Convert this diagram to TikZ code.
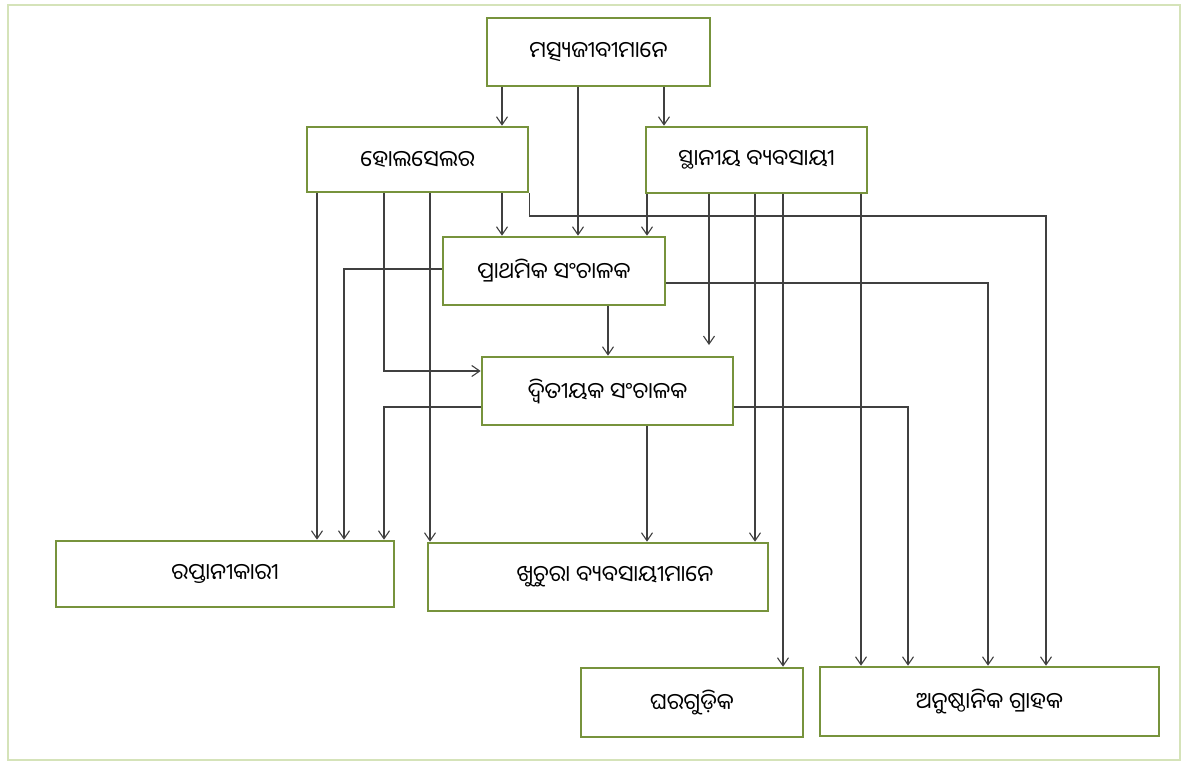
\documentclass[tikz,border=0pt]{standalone}
\usepackage{fontspec}
\newfontfamily\oriya[Script=Oriya]{Noto Sans Oriya UI}
\usetikzlibrary{arrows.meta}
\definecolor{boxgreen}{HTML}{77933C}
\definecolor{framegreen}{HTML}{D5E3B9}
\definecolor{linegray}{HTML}{404040}
\begin{document}
\begin{tikzpicture}[x=1pt,y=-1pt,
  box/.style={draw=boxgreen,line width=2.6pt,fill=white,inner sep=0pt,font=\oriya\fontsize{22.5}{26}\selectfont,text=black},
  lbl/.style={inner sep=0pt,font=\oriya\fontsize{22.5}{26}\selectfont,text=black},
  conn/.style={draw=linegray,line width=1.1pt,-{Straight Barb[length=8pt,width=11pt,line width=1.1pt]}},
  plain/.style={draw=linegray,line width=1.1pt}]
\useasboundingbox (0,0) rectangle (1182,763);
\draw[framegreen,line width=2.4pt] (8,5) rectangle (1180,760);
% boxes
\node[box,minimum width=223pt,minimum height=68pt] (A) at (598.5,52) {ମତ୍ସ୍ୟଜୀବୀମାନେ};
\node[box,minimum width=221pt,minimum height=65pt] (B) at (417.5,159.5) {ହୋଲସେଲର};
\node[box,minimum width=221pt,minimum height=66pt] (C) at (756.5,160) {ସ୍ଥାନୀୟ ବ୍ୟବସାୟୀ};
\node[box,minimum width=222pt,minimum height=68pt] (D) at (554,271) {ପ୍ରାଥମିକ ସଂଚାଳକ};
\node[box,minimum width=251pt,minimum height=68pt] (E) at (607.5,391) {ଦ୍ୱିତୀୟକ ସଂଚାଳକ};
\node[box,minimum width=338pt,minimum height=66pt] (F) at (225,574) {ରପ୍ତାନୀକାରୀ};
\node[box,minimum width=340pt,minimum height=68pt] (G) at (598,577) {};
\node[lbl] (Gt) at ([xshift=17pt]G.center) {ଖୁଚୁରା ବ୍ୟବସାୟୀମାନେ};
\node[box,minimum width=222pt,minimum height=69pt] (H) at (692,702.5) {ଘରଗୁଡ଼ିକ};
\node[box,minimum width=339pt,minimum height=69pt] (I) at (989.5,701.5) {ଅନୁଷ୍ଠାନିକ ଗ୍ରାହକ};
% column coordinates
\coordinate (c502) at (502,0);
\coordinate (c578) at (578,0);
\coordinate (c664) at (664,0);
\coordinate (c317) at (317,0);
\coordinate (c384) at (384,0);
\coordinate (c430) at (430,0);
\coordinate (c647) at (647,0);
\coordinate (c755) at (755,0);
\coordinate (c783) at (783,0);
\coordinate (c861) at (861,0);
\coordinate (c344) at (344,0);
\coordinate (c608) at (608,0);
\coordinate (c988) at (988,0);
\coordinate (c908) at (908,0);
\coordinate (r1) at (1046,216);
\coordinate (e709) at (709,345);
\coordinate (c709) at (709,0);
% from A
\draw[conn] (A.south -| c502) -- (B.north -| c502);
\draw[conn] (A.south -| c578) -- (D.north -| c578);
\draw[conn] (A.south -| c664) -- (C.north -| c664);
% from B
\draw[conn] (B.south -| c317) -- (F.north -| c317);
\draw[conn] (B.south -| c384) |- ([yshift=20pt]E.west);
\draw[conn] (B.south -| c430) -- (G.north -| c430);
\draw[conn] (B.south -| c502) -- (D.north -| c502);
\draw[conn] (B.south east) |- (r1) -- (I.north -| r1);
% from C
\draw[conn] (C.south -| c647) -- (D.north -| c647);
\draw[conn] (C.south -| c709) -- (e709);
\draw[conn] (C.south -| c755) -- (G.north -| c755);
\draw[conn] (C.south -| c783) -- (H.north -| c783);
\draw[conn] (C.south -| c861) -- (I.north -| c861);
% from D
\draw[conn] ([yshift=2pt]D.west) -| (F.north -| c344);
\draw[conn] (D.south -| c608) -- (E.north -| c608);
\draw[conn] ([yshift=-12pt]D.east) -| (I.north -| c988);
% from E
\draw[conn] ([yshift=-16pt]E.west) -| (F.north -| c384);
\draw[conn] (E.south -| c647) -- (G.north -| c647);
\draw[conn] ([yshift=-16pt]E.east) -| (I.north -| c908);
\end{tikzpicture}
\end{document}
